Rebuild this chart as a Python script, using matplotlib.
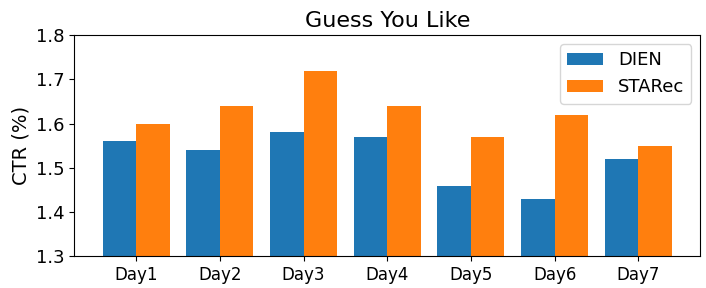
import matplotlib
matplotlib.use("Agg")
import numpy as np
import matplotlib.pyplot as plt

days = ["Day1", "Day2", "Day3", "Day4", "Day5", "Day6", "Day7"]
dien = [1.56, 1.54, 1.58, 1.57, 1.46, 1.43, 1.52]
starec = [1.60, 1.64, 1.72, 1.64, 1.57, 1.62, 1.55]

x = np.arange(len(days))
w = 0.4

fig, ax = plt.subplots(figsize=(7.06, 2.88), dpi=100)
ax.bar(x - w / 2, dien, w, label="DIEN", color="#1f77b4")
ax.bar(x + w / 2, starec, w, label="STARec", color="#ff7f0e")

ax.set_ylim(1.3, 1.8)
ax.set_yticks([1.3, 1.4, 1.5, 1.6, 1.7, 1.8])
ax.set_xticks(x)
ax.set_xticklabels(days)
ax.tick_params(labelsize=13)
ax.tick_params(axis="x", labelsize=12)
ax.set_ylabel("CTR (%)", fontsize=14)
ax.set_title("Guess You Like", fontsize=16)
ax.legend(loc="upper right", fontsize=13)

plt.subplots_adjust(left=0.105, right=0.992, top=0.878, bottom=0.11)
plt.savefig("out.png", dpi=100)
